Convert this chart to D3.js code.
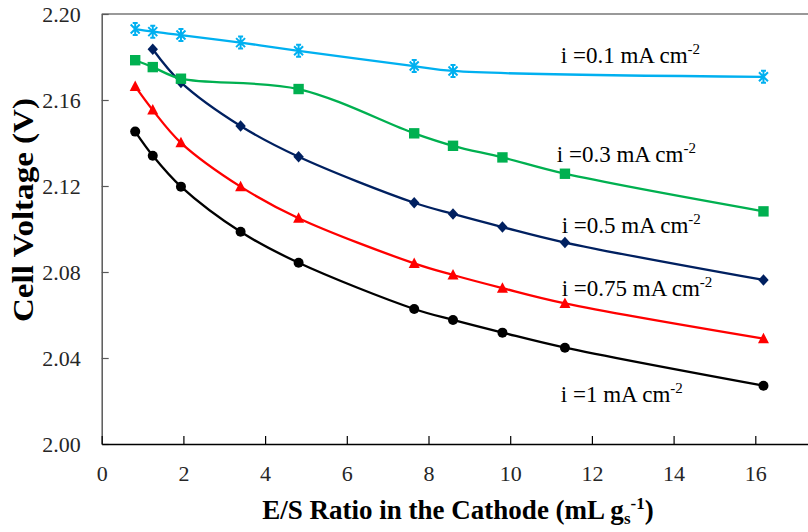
<!DOCTYPE html>
<html lang="en">
  <head>
    <meta charset="UTF-8">
    <title>Cell voltage vs E/S ratio</title>
  </head>
  <body>
<div id="my_dataviz"></div>
<script src="https://d3js.org/d3.v7.min.js"></script>
<script>

// E/S ratio in the cathode (mL g_s^-1)
var esRatio = [0.82, 1.25, 1.94, 3.40, 4.82, 7.65, 8.60, 9.81, 11.34, 16.20];

// cell voltage (V) for each current density, null = no point there
var v01  = [2.1930, 2.1918, 2.1902, 2.1867, 2.1829, 2.1758, 2.1735, null, null, 2.1708];
var v03  = [2.1785, 2.1753, 2.1699, null, 2.1651, 2.1445, 2.1387, 2.1333, 2.1257, 2.1082];
var v05  = [null, 2.1836, 2.1682, 2.1479, 2.1336, 2.1122, 2.1070, 2.1009, 2.0937, 2.0763];
var v075 = [2.1663, 2.1553, 2.1401, 2.1197, 2.1050, 2.0840, 2.0786, 2.0725, 2.0654, 2.0490];
var v1   = [2.1453, 2.1341, 2.1197, 2.0987, 2.0843, 2.0628, 2.0577, 2.0518, 2.0448, 2.0271];

var currents = ["0.1", "0.3", "0.5", "0.75", "1"];

var xTicks = [0, 2, 4, 6, 8, 10, 12, 14, 16];
var yTicks = [2.00, 2.04, 2.08, 2.12, 2.16, 2.20];

var FONT = "Liberation Serif";

// chart size
var W = 808, H = 532;
var plotLeft = 101.7, plotTop = 14, plotBottom = 444;

var svg = d3.select("#my_dataviz")
  .append("svg")
    .attr("width", W)
    .attr("height", H)
    .attr("font-family", FONT)
    .style("position", "absolute")
    .style("left", "0px")
    .style("top", "0px")
    .style("background", "#fff");

var x = d3.scaleLinear()
  .domain([0, 18])
  .range([plotLeft, plotLeft + 18 * 40.85]);

var y = d3.scaleLinear()
  .domain([2.00, 2.20])
  .range([plotBottom, plotTop]);

// top frame line
svg.append("line")
  .attr("x1", plotLeft).attr("x2", W)
  .attr("y1", plotTop).attr("y2", plotTop)
  .attr("stroke", "#777")
  .attr("stroke-width", 1.5);

// Y axis
var yAxis = svg.append("g")
  .attr("transform", "translate(" + plotLeft + ",0)")
  .call(d3.axisLeft(y)
    .tickValues(yTicks)
    .tickSize(-7)
    .tickSizeOuter(0)
    .tickPadding(21)
    .tickFormat(d3.format(".2f")));
yAxis.attr("font-family", FONT);
yAxis.select(".domain").attr("stroke", "#595959").attr("stroke-width", 1.5);
yAxis.selectAll(".tick line").attr("stroke", "#595959").attr("stroke-width", 1.2);
yAxis.selectAll("text")
  .attr("font-family", FONT)
  .style("font-family", FONT)
  .attr("font-size", 22)
  .attr("fill", "#262626");

// X axis
var xAxis = svg.append("g")
  .attr("transform", "translate(0," + plotBottom + ")")
  .call(d3.axisBottom(x)
    .tickValues(xTicks)
    .tickSize(-8)
    .tickSizeOuter(0)
    .tickPadding(21));
xAxis.attr("font-family", FONT);
xAxis.select(".domain").attr("stroke", "#000").attr("stroke-width", 1.5);
xAxis.selectAll(".tick line").attr("stroke", "#000").attr("stroke-width", 1.2);
xAxis.selectAll("text")
  .attr("font-family", FONT)
  .style("font-family", FONT)
  .attr("font-size", 22)
  .attr("fill", "#262626");

// axis titles
svg.append("text")
  .attr("transform", "translate(33,210) rotate(-90)")
  .attr("text-anchor", "middle")
  .attr("font-family", FONT)
  .style("font-family", FONT)
  .attr("font-weight", "bold")
  .attr("font-size", 30)
  .attr("textLength", 224)
  .attr("lengthAdjust", "spacingAndGlyphs")
  .text("Cell Voltage (V)");

var xt = svg.append("text")
  .attr("x", 458)
  .attr("y", 519)
  .attr("text-anchor", "middle")
  .attr("font-family", FONT)
  .style("font-family", FONT)
  .attr("font-weight", "bold")
  .attr("font-size", 27);
xt.append("tspan").text("E/S Ratio in the Cathode (mL g");
xt.append("tspan").attr("font-size", 17).attr("dy", 5).text("s");
xt.append("tspan").attr("font-size", 17).attr("dy", -15).text("-1");
xt.append("tspan").attr("dy", 10).text(")");

// marker shapes, roughly like the Excel ones
function markerPath(type) {
  var p = d3.path();
  if (type == "circle") {
    p.arc(0, 0, 5, 0, 2 * Math.PI);
  } else if (type == "square") {
    p.rect(-5.2, -5.2, 10.4, 10.4);
  } else if (type == "diamond") {
    p.moveTo(0, -5.8); p.lineTo(5.2, 0); p.lineTo(0, 5.8); p.lineTo(-5.2, 0); p.closePath();
  } else if (type == "triangle") {
    p.moveTo(0, -6); p.lineTo(5.5, 4.5); p.lineTo(-5.5, 4.5); p.closePath();
  } else {
    // star: X with a vertical bar
    p.moveTo(-4.5, -4.5); p.lineTo(4.5, 4.5);
    p.moveTo(4.5, -4.5); p.lineTo(-4.5, 4.5);
    p.moveTo(0, -6); p.lineTo(0, 6);
    p.moveTo(-2.5, -6); p.lineTo(2.5, -6);
    p.moveTo(-2.5, 6); p.lineTo(2.5, 6);
  }
  return p.toString();
}

// drawing order: i = 1 first, i = 0.1 last
var series = [
  {values: v1,   color: "#000000", marker: "circle",   label: currents[4], lx: 11.24, lv: 2.0197},
  {values: v075, color: "#ff0000", marker: "triangle", label: currents[3], lx: 11.26, lv: 2.0688},
  {values: v05,  color: "#002060", marker: "diamond",  label: currents[2], lx: 11.26, lv: 2.0981},
  {values: v03,  color: "#00b050", marker: "square",   label: currents[1], lx: 11.14, lv: 2.1313},
  {values: v01,  color: "#00b0f0", marker: "star",     label: currents[0], lx: 11.24, lv: 2.1772}
];

var line = d3.line()
  .x(function(d) { return x(d.x); })
  .y(function(d) { return y(d.v); })
  .curve(d3.curveCatmullRom.alpha(0.5));

series.forEach(function(s) {
  var pts = esRatio
    .map(function(e, i) { return {x: e, v: s.values[i]}; })
    .filter(function(d) { return d.v != null; });

  svg.append("path")
    .datum(pts)
    .attr("fill", "none")
    .attr("stroke", s.color)
    .attr("stroke-width", 2.3)
    .attr("d", line);

  svg.selectAll(null)
    .data(pts)
    .enter()
    .append("path")
      .attr("transform", function(d) { return "translate(" + x(d.x) + "," + y(d.v) + ")"; })
      .attr("d", markerPath(s.marker))
      .attr("fill", s.marker == "star" ? "none" : s.color)
      .attr("stroke", s.color)
      .attr("stroke-width", s.marker == "star" ? 2 : 0);

  var t = svg.append("text")
    .attr("x", x(s.lx))
    .attr("y", y(s.lv))
    .attr("font-family", FONT)
    .style("font-family", FONT)
    .attr("font-size", 23)
    .attr("fill", "#000");
  t.append("tspan").text("i =" + s.label + " mA cm");
  t.append("tspan").attr("font-size", 15).attr("dy", -9).text("-2");
});

</script>
  </body>
</html>
